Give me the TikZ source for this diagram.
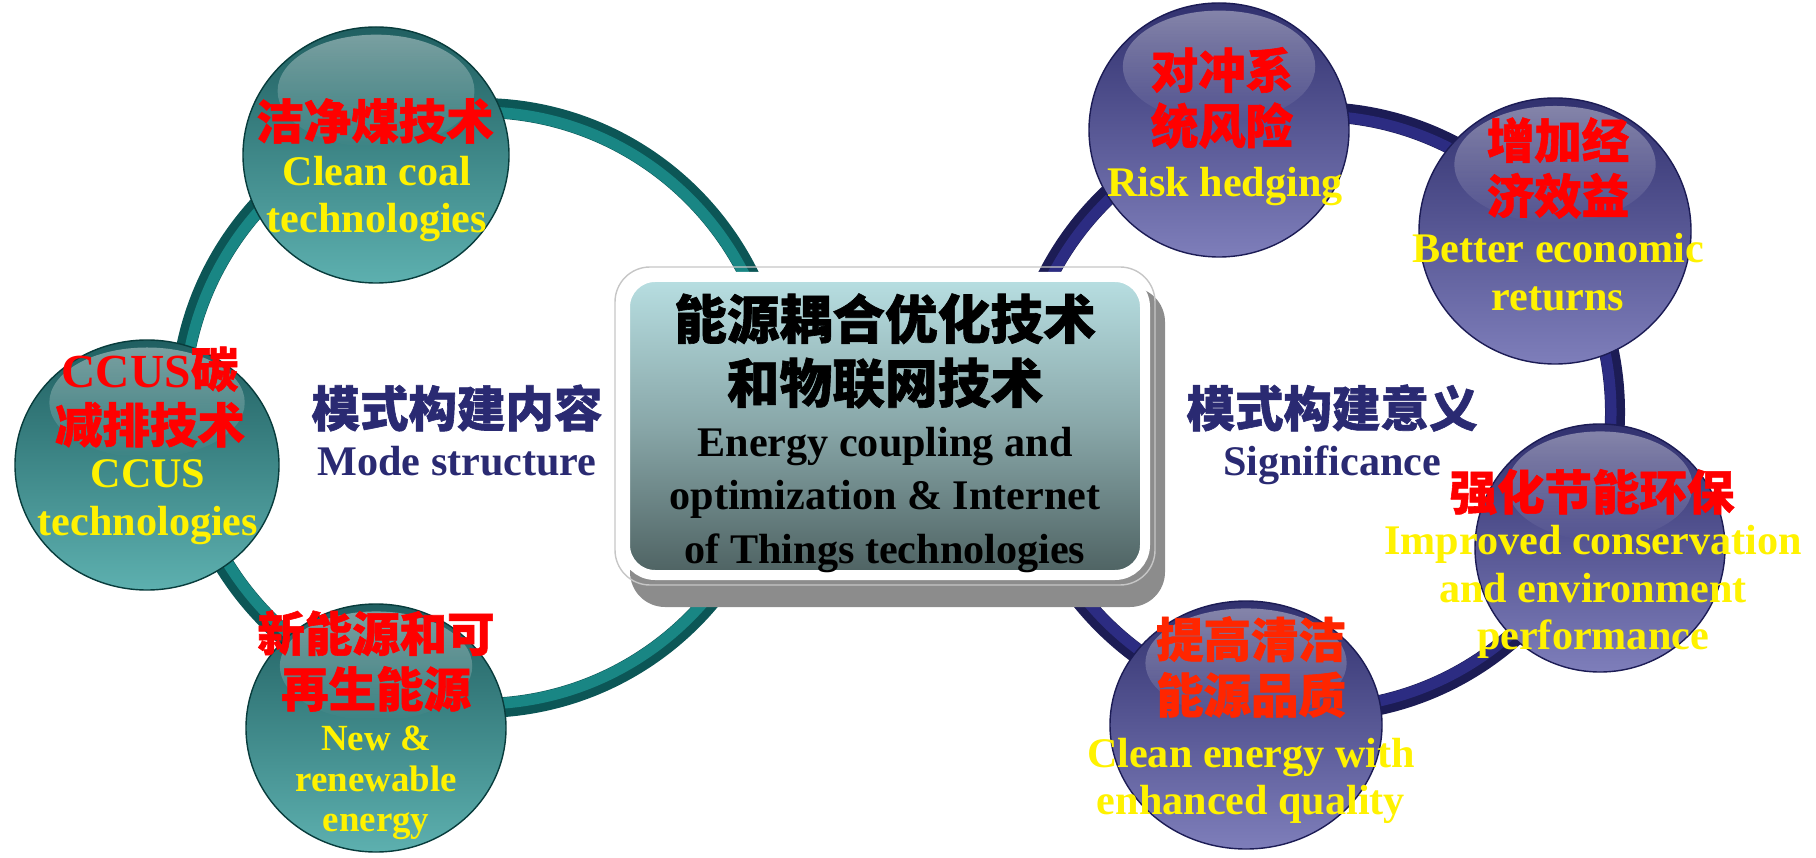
\documentclass[tikz,border=0pt]{standalone}
\usepackage{fontspec}
\setmainfont{Liberation Serif}
\newfontfamily\zh{Noto Sans CJK SC}[BoldFeatures={FakeBold=1.2}]
\usetikzlibrary{fadings}

% colours
\definecolor{tealdark}{HTML}{0C5656}
\definecolor{teallight}{HTML}{198684}
\definecolor{tealtop}{HTML}{205F61}
\definecolor{tealmid}{HTML}{0F4546}
\definecolor{tealbot}{HTML}{5DB0AF}
\definecolor{navydark}{HTML}{1C1C55}
\definecolor{navylight}{HTML}{2C2C82}
\definecolor{navytop}{HTML}{31316F}
\definecolor{navymid}{HTML}{22225A}
\definecolor{navybot}{HTML}{7E7EBA}
\definecolor{labelblue}{HTML}{2A2A72}
\definecolor{boxtop}{HTML}{B8DFE2}
\definecolor{boxbottom}{HTML}{4E6262}
\definecolor{shadowgray}{HTML}{8C8C8C}

\tikzset{
  tealball/.style={top color=tealtop, middle color=tealmid, bottom color=tealbot, draw=tealdark!70!black, thin},
  navyball/.style={top color=navytop, middle color=navymid, bottom color=navybot, draw=navydark, thin},
  zhred/.style={font=\zh\bfseries\fontsize{13.5}{15.8}\selectfont, text=red, align=center, inner sep=0pt},
  enyel/.style={font=\bfseries\fontsize{12}{13.5}\selectfont, text=yellow, align=center, inner sep=0pt},
  zhlabel/.style={font=\zh\bfseries\fontsize{13.8}{16}\selectfont, text=labelblue, inner sep=0pt},
  enlabel/.style={font=\bfseries\fontsize{12}{14}\selectfont, text=labelblue, inner sep=0pt},
  corebox/.style={rectangle, rounded corners=0.3cm, minimum width=5.2cm, minimum height=2.98cm,
    top color=boxtop, bottom color=boxbottom, middle color=boxtop!55!boxbottom, draw=white, line width=0.1cm},
}

% glossy ball: centre, x radius, y radius, style
\newcommand{\ball}[4]{%
  \shadedraw[#4] (#1) ellipse ({#2} and {#3});
  \fill[white, path fading=south, opacity=.4, shift={(#1)}] (0,{0.5*#3}) ellipse ({0.74*#2} and {0.44*#3});
}

\begin{document}
\begin{tikzpicture}
\useasboundingbox (0,0) rectangle (18.16,8.57);

% ring centres
\coordinate (lring) at (4.80,4.49);
\coordinate (rring) at (13.15,4.45);

% the two rings
\draw[tealdark, line width=0.2cm] (lring) circle (3.0);
\draw[teallight, line width=0.11cm] (lring) circle (2.96);
\draw[navydark, line width=0.2cm] (rring) circle (3.0);
\draw[navylight, line width=0.11cm] (rring) circle (2.96);

% centre box with its shadow
\fill[shadowgray, rounded corners=0.35cm] (6.30,2.50) rectangle (11.65,5.70);
\node[corebox] (core) at (8.85,4.31) {};
\draw[gray!45, thin, rounded corners=0.35cm] ([shift={(-0.05,-0.05)}]core.south west) rectangle ([shift={(0.05,0.05)}]core.north east);
\node[font=\zh\bfseries\fontsize{15}{18.2}\selectfont, align=center, inner sep=0pt] (corezh) at (8.85,5.06) {能源耦合优化技术\\和物联网技术};
\node[font=\bfseries\fontsize{12}{15.2}\selectfont, align=center, inner sep=0pt] (coreen) at (8.85,3.57) {Energy coupling and\\optimization \& Internet\\of Things technologies};

% left balls
\coordinate (coal) at (3.76,7.02);
\coordinate (ccus) at (1.47,3.92);
\coordinate (renew) at (3.76,1.29);
\ball{coal}{1.33}{1.28}{tealball}
\ball{ccus}{1.32}{1.25}{tealball}
\ball{renew}{1.30}{1.24}{tealball}

% right balls
\coordinate (risk) at (12.19,7.27);
\coordinate (econ) at (15.55,6.26);
\coordinate (green) at (16.00,3.09);
\coordinate (clean) at (12.46,1.32);
\ball{risk}{1.30}{1.27}{navyball}
\ball{econ}{1.36}{1.33}{navyball}
\ball{green}{1.25}{1.24}{navyball}
\ball{clean}{1.36}{1.24}{navyball}

% ring labels
\node[zhlabel] (modezh) at (4.57,4.49) {模式构建内容};
\node[enlabel] (modeen) at (4.57,3.96) {Mode structure};
\node[zhlabel] (signzh) at (13.32,4.49) {模式构建意义};
\node[enlabel] (signen) at (13.32,3.92) {Significance};

% ball texts, left
\node[zhred] (coalzh) at (3.75,7.36) {洁净煤技术};
\node[enyel] (coalen) at (3.77,6.58) {Clean coal\\technologies};
\node[zhred] (ccuszh) at (1.50,4.60) {{\rmfamily CCUS}碳\\减排技术};
\node[enyel] (ccusen) at (1.48,3.55) {CCUS\\technologies};
\node[zhred] (renewzh) at (3.76,1.96) {新能源和可\\再生能源};
\node[enyel, font=\bfseries\fontsize{10.5}{11.5}\selectfont] (renewen) at (3.76,0.74) {New \&\\renewable\\energy};

% ball texts, right
\node[zhred] (riskzh) at (12.22,7.59) {对冲系\\统风险};
\node[enyel] (risken) at (12.25,6.70) {Risk hedging};
\node[zhred] (econzh) at (15.58,6.89) {增加经\\济效益};
\node[enyel] (econen) at (15.58,5.85) {Better economic\\returns};
\node[zhred] (greenzh) at (15.92,3.65) {强化节能环保};
\node[enyel] (greenen) at (15.93,2.65) {Improved conservation\\and environment\\performance};
\node[zhred, text=red!85!yellow] (cleanzh) at (12.51,1.90) {提高清洁\\能源品质};
\node[enyel] (cleanen) at (12.51,0.76) {Clean energy with\\enhanced quality};
\end{tikzpicture}
\end{document}
